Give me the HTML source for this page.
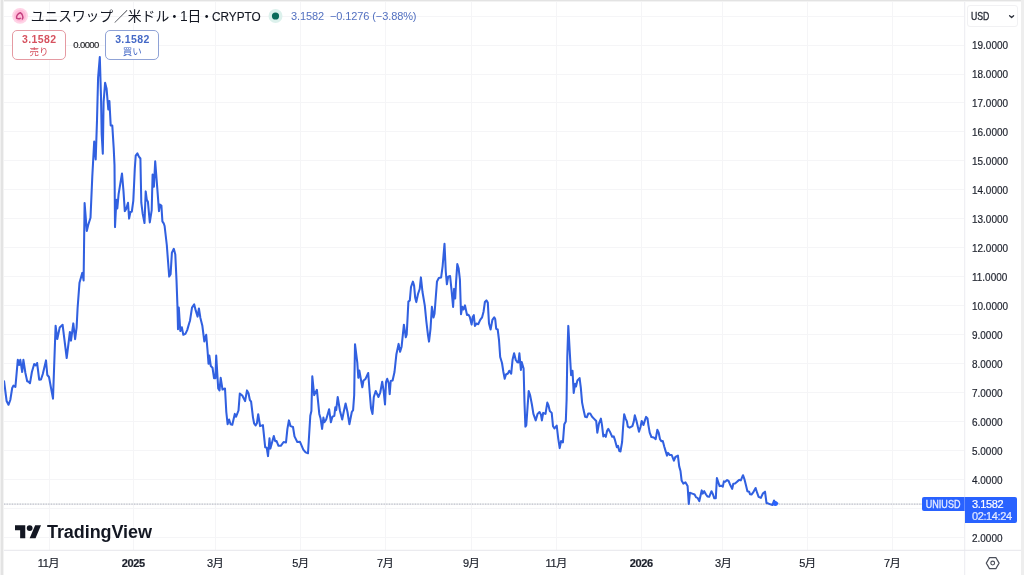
<!DOCTYPE html>
<html lang="ja">
<head>
<meta charset="utf-8">
<title>UNIUSD chart</title>
<style>
html,body{margin:0;padding:0;background:#fff;}
body{width:1024px;height:575px;overflow:hidden;position:relative;font-family:"Liberation Sans","Noto Sans CJK JP",sans-serif;color:#131722;}
#wrap{position:absolute;left:0;top:0;width:1024px;height:575px;overflow:hidden;background:#fff;}
.abs{position:absolute;}
svg{position:absolute;left:0;top:0;}
#grid line{stroke:#f5f5f7;stroke-width:1;}
.pl{position:absolute;left:972px;width:50px;height:14px;line-height:14px;font-size:11px;letter-spacing:0;transform:scaleX(0.905);transform-origin:0 50%;color:#1e222d;-webkit-text-stroke:0.2px #1e222d;white-space:nowrap;}
.tl{position:absolute;top:555px;width:60px;height:16px;line-height:16px;text-align:center;font-size:11px;color:#1c202b;white-space:nowrap;letter-spacing:-0.3px;-webkit-text-stroke:0.2px #1c202b;}
.tl.b{font-weight:bold;}
#title{left:32px;top:6px;height:21px;line-height:21px;font-size:13.8px;color:#131722;white-space:nowrap;}
#title .d{margin:0 -1.5px 0 -1.6px;}
#title .l{letter-spacing:0;}
#title .c{display:inline-block;font-size:13.4px;transform:scaleX(0.88);transform-origin:0 50%;-webkit-text-stroke:0.15px #131722;}
#vals{left:291px;top:8px;height:16px;line-height:16px;font-size:11px;color:#5270c0;white-space:nowrap;letter-spacing:-0.1px;}
.btn{position:absolute;top:30px;height:28px;border:1px solid;border-radius:5px;box-sizing:content-box;text-align:center;background:#fff;}
.btn .p{position:absolute;left:0;right:0;top:2.3px;height:12px;line-height:12px;font-size:10.5px;font-weight:bold;letter-spacing:0.4px;text-indent:0.4px;}
.btn .t{position:absolute;left:0;right:0;top:15px;height:12px;line-height:12px;font-size:9.5px;}
#sell{left:12px;width:52px;border-color:#e59aa2;color:#d6525f;}
#buy{left:105px;width:52.4px;border-color:#8fa2d6;color:#4468c6;}
#spread{left:72px;top:38.5px;width:28px;height:12px;line-height:12px;font-size:9.5px;color:#2a2a2e;text-align:center;letter-spacing:-0.6px;-webkit-text-stroke:0.2px #2a2a2e;}
#usd{left:967px;top:4.5px;width:51px;height:22px;border:1px solid #f1f1f3;border-radius:3px;box-sizing:border-box;}
#usd span{position:absolute;left:3.4px;top:4px;height:14px;line-height:14px;font-size:10.4px;color:#2a2e39;transform:scaleX(0.84);transform-origin:0 50%;-webkit-text-stroke:0.35px #2a2e39;}
#sym{left:922px;top:497px;width:43px;height:14px;background:#2962ff;border-radius:2px 0 0 2px;color:#e6ecff;font-size:10.5px;line-height:14px;text-align:center;}
#sym span{display:inline-block;transform:scaleX(0.86);transform-origin:50% 50%;-webkit-text-stroke:0.3px #e6ecff;margin-left:-1.5px;}
#last{left:965px;top:497px;width:52px;height:26px;background:#2962ff;border-radius:0 2px 2px 0;color:#fff;font-size:11px;letter-spacing:-0.4px;-webkit-text-stroke:0.2px #fff;}
#last div{position:absolute;left:7px;height:12px;line-height:12px;white-space:nowrap;}
#tvtxt{left:47px;top:520px;height:24px;line-height:24px;font-size:18px;font-weight:bold;color:#131722;letter-spacing:-0.07px;white-space:nowrap;}
</style>
</head>
<body>
<div id="wrap">
<svg id="grid" width="1024" height="575" viewBox="0 0 1024 575">
<line x1="4" y1="537.5" x2="964" y2="537.5"/>
<line x1="4" y1="508.5" x2="964" y2="508.5"/>
<line x1="4" y1="479.5" x2="964" y2="479.5"/>
<line x1="4" y1="450.5" x2="964" y2="450.5"/>
<line x1="4" y1="421.5" x2="964" y2="421.5"/>
<line x1="4" y1="392.5" x2="964" y2="392.5"/>
<line x1="4" y1="363.5" x2="964" y2="363.5"/>
<line x1="4" y1="334.5" x2="964" y2="334.5"/>
<line x1="4" y1="305.5" x2="964" y2="305.5"/>
<line x1="4" y1="276.5" x2="964" y2="276.5"/>
<line x1="4" y1="247.5" x2="964" y2="247.5"/>
<line x1="4" y1="218.5" x2="964" y2="218.5"/>
<line x1="4" y1="189.5" x2="964" y2="189.5"/>
<line x1="4" y1="160.5" x2="964" y2="160.5"/>
<line x1="4" y1="131.5" x2="964" y2="131.5"/>
<line x1="4" y1="102.5" x2="964" y2="102.5"/>
<line x1="4" y1="74.5" x2="964" y2="74.5"/>
<line x1="4" y1="45.5" x2="964" y2="45.5"/>
<line x1="4" y1="16.5" x2="964" y2="16.5"/>
<line x1="49.5" y1="2" x2="49.5" y2="550"/>
<line x1="133.5" y1="2" x2="133.5" y2="550"/>
<line x1="215.5" y1="2" x2="215.5" y2="550"/>
<line x1="300.5" y1="2" x2="300.5" y2="550"/>
<line x1="385.5" y1="2" x2="385.5" y2="550"/>
<line x1="471.5" y1="2" x2="471.5" y2="550"/>
<line x1="556.5" y1="2" x2="556.5" y2="550"/>
<line x1="641.5" y1="2" x2="641.5" y2="550"/>
<line x1="722.5" y1="2" x2="722.5" y2="550"/>
<line x1="807.5" y1="2" x2="807.5" y2="550"/>
<line x1="892.5" y1="2" x2="892.5" y2="550"/>
</svg>
<svg id="chart" width="1024" height="575" viewBox="0 0 1024 575">
<line x1="4" y1="504.1" x2="922" y2="504.1" stroke="#e4e5e9" stroke-width="1"/>
<line x1="4" y1="504.1" x2="922" y2="504.1" stroke="#b4b7c2" stroke-width="1" stroke-dasharray="1.3 1.3"/>
<polyline fill="none" stroke="#3160e0" stroke-width="2.05" stroke-linejoin="round" stroke-linecap="round" points="4.1,381.3 6.6,401 8.5,404.8 10.3,400 12.2,388 13.5,385.6 15.4,387 17.8,359.8 19.1,365 20.3,359.8 22.2,372 23.4,359.8 25.4,373 27.2,381.2 28.6,381.7 30,383.2 31.9,372 34.2,364 35.7,365.4 37.1,363 39.2,379.7 41,379.5 42.8,374 46,360.4 47.3,375 49,377 53,398.6 55.6,325.7 57.3,339 59.7,327.6 62.6,324.8 66.7,358 69.9,332 71,340.7 73.3,323.4 75.1,339.2 76.6,327.6 77.6,308 79.5,282.7 82.3,272.9 83.6,280.4 84.6,203 86.8,231 88.2,225 90.5,217.8 92.3,176.4 94.2,141.5 95.7,159.5 97,120.5 98.1,77.6 99.8,57 101,96.4 101.7,134.5 102.8,153.8 103.6,102 105.1,82.8 106.6,88.8 108.3,109.5 109.4,101 110.7,125.5 112.3,125.6 113.7,148 114.5,165.1 115,227.1 116.4,199.8 117.3,208.5 118.6,194.2 122,173.5 123.5,191.4 124.8,211.1 126.1,209.2 128,202.7 129.1,218.6 130.4,212 131.8,211.7 133.3,200.8 134.8,168.8 135.7,155.7 137.4,153.4 138.9,156.6 140.4,158.5 141.3,202.7 142.7,213.9 144.5,223 145.7,191.4 146.8,199.8 147.9,201.7 149.8,222.4 151.7,210.2 152.6,174.5 153.9,186.7 155.2,161.3 157.1,185.8 159,211.1 159.9,204.5 161.4,205.5 162.4,221.4 163.7,223.3 164.6,226 166.8,245 169.2,276.6 170.6,274.2 171.9,252.6 173.8,248.8 175.3,254.5 176.5,280 177.5,307.6 178,329.2 178.8,307.6 180.3,331 181.8,327.3 183.3,334.8 185.4,333.9 187.2,330.1 189.1,323.5 190,320.7 192,307.6 194.2,304.4 195.7,310.4 197.6,316.6 198.9,308.5 200.4,317.9 202.3,325.4 204.3,341.4 206.2,334.8 207.5,350 208.5,363.8 209.3,355.5 210.8,366 212.5,367.7 214,378.2 215.4,378.2 216.2,355.5 218.2,388.5 219.5,390.4 220.7,377.8 222.5,389.5 225,388.5 226.3,412 227.6,424.2 229.1,419.5 230.6,424.2 232.3,424.8 234.8,413.9 236.1,416.7 238.5,410.5 239.8,393.6 242.3,395.5 245.1,401.1 247,390.4 248.5,393.2 249.8,399.8 251.1,401.7 253,417.6 254.1,423.3 255.6,425.5 256.9,423.3 258.2,414.2 260.1,426.1 262.9,425.1 265.2,447.3 266.7,447.7 268,456.1 269.5,438.3 270.4,448.6 273.8,436 275.1,441.1 276.6,441.1 278.5,445.8 280.8,445.8 283.6,442 286,442.4 287.4,428.9 288.9,420.4 290.5,426.1 293,427 294.5,436.4 297.3,442 299.9,441.7 303.3,449.6 305.6,452.4 308,453.3 310.3,415.8 311.4,411 312.3,376.3 314.2,395.1 316.9,389.8 319.3,413.9 320.6,418.6 322.1,428.9 323.4,417.6 324.4,422.3 326.2,419.5 329.1,409.2 330.9,422.3 332.4,416.7 334.3,415.8 335.3,407.3 336.2,410.1 337.7,397 340,411 342.2,419.5 343.7,412 345.6,403.5 347.5,412 349.4,424.2 351.8,412 353.1,410.1 354.2,395 355,344.2 357.3,362.7 358.3,377.8 359.3,370.5 362.3,387.3 363.5,380.5 365.4,379.2 368.2,373 369.5,390 371,408.2 372.5,413.9 373.8,397 375.7,391 378.5,397 380.3,392.3 382.2,381.7 383.7,391.3 385,404.5 386,382 387.2,378.8 388.8,383.8 389.7,394.1 390.7,381 392.6,380.5 394.5,372 396.4,354.2 398.6,343.9 400.1,351.8 401.6,346.7 403.9,324.7 405.8,337.3 406.7,334.5 408.4,301.6 409.8,300.5 411,287 412.9,281.6 414.1,285.6 415.2,297.8 416.3,302.1 418,294 419.7,289 420.9,277.4 422.5,292 424.8,305.6 426.3,321 427.9,334.5 429,341.6 430.5,329 431.9,306.8 433.5,317.5 434.5,313.8 435.8,297 437,281.4 438.8,278 441.1,277.6 442.6,266.3 444.5,243.8 445.8,272 446.9,284.3 448.2,276.7 450.1,276.1 451.6,290.8 453.1,307 454.1,288.9 455.2,298.5 456.1,281.4 457.3,264.1 458.6,268.2 459.9,279.5 461,314.2 462.3,306.7 463.6,309.5 465,305.4 467,315 468.5,314.8 469.8,317 471.6,324.6 472.7,317 473.8,315.2 474.9,326 476.4,323.6 478.3,324.2 480.2,319.9 482.1,317.3 483.6,311.4 484.9,302 486.4,300.4 487.8,302.6 489,323.6 490.6,329.5 492.4,319.9 494.2,317.3 495.2,319 496.2,328.9 497.7,329.5 499,340 500.2,357 502,363 503.4,372 504.7,378.8 506,374.5 507.9,373.5 509.3,370.7 511.2,373.7 512.6,359.4 514.1,353.3 515.8,360 517.5,362.3 518.4,362.5 519.4,353.3 520.9,370 521.7,362 523.6,368.5 524.5,402.6 525.4,426.6 526.3,425.1 527.6,406.4 528.7,391 530.1,395.1 531.9,404.5 533.4,413.9 535.7,420.4 537.6,413.9 539.5,412 541,414.8 541.9,420.4 543.2,412.9 545.5,413.9 547.3,402.6 548.5,405.4 549.8,411 551.7,412.9 553,426.1 554.5,428.5 556.7,425.5 558.2,438.3 559.7,448.1 561.1,441.1 562.9,442.4 564.3,424.2 565.8,421.4 566.6,400 567.3,356.4 568.3,325.9 569.8,352.6 571.1,375.2 572.5,370.8 573.7,392.9 575.1,383.8 576,386.5 577.4,380.5 579.6,378.1 580.8,387.6 582.1,402.6 583.6,410.1 585.1,416.7 586.8,417.3 588.3,413.5 590.2,413.5 592.1,416.7 593.9,418.6 596.2,421 597.3,432.7 599,423.3 600.9,418.6 602,425.1 603.3,436.4 604.6,434.9 605.8,436.8 607.1,430.8 608.2,428.9 609.9,431.7 612.2,436.8 613.7,436.4 615,440.2 616.9,447.3 618,445.8 619.3,451.1 620.5,451.4 622.1,442 623.1,427 624.2,414.2 625.6,418.6 626.9,421.4 627.8,426.6 629.6,427.7 632.4,426.1 633.8,421.4 634.8,415.3 636.6,421.4 639,431.7 640.5,427 641.7,421 643.5,425 644.9,420.4 646.1,416.9 647.5,418.5 648.4,425.1 649.7,432.7 651.4,437 653.8,437.5 655.7,439.1 657.3,429.8 658.7,432.7 660,439.2 661.3,441.1 662.8,441.1 664.3,446.7 665.7,451.4 667,455.6 668,452.9 669.8,455 671.7,455 673.9,460.7 675.4,457 677.9,455.6 679.2,466.4 680.5,471 681.6,480.4 683.3,483.6 685.4,482.3 687.6,486.1 688.8,503.9 689.9,492.7 692.3,493.6 694.6,494.5 696.1,497.4 697.6,497.9 699.3,501.1 700.8,494.5 701.7,490.4 702.8,493.6 704.2,491.2 706,494.5 707.4,496.4 709.2,496.8 711.5,491.2 713,494.5 714.3,498.3 715.8,498.3 716.9,478 718.3,482.3 719.6,486.1 721.4,485.7 722.8,486.6 723.9,481.4 725.2,481.8 727.1,480.1 728.6,481 729.9,484.2 732.2,488.9 733.3,483.8 735,483.6 737.4,481.4 739.3,479.9 740.8,480.4 743,475.2 744.4,479.1 745.9,485.1 747.4,491.2 749.1,491.7 750,494.2 751.5,494.5 753,492.7 755.6,488 757.1,492.7 758.6,496.8 760.9,497.9 762.8,493.6 765,491.7 766.5,503 768.4,503.6 770.3,504.3 772.5,504.9 774,500.5 775.5,503 777.4,503.4"/>
<circle cx="775.3" cy="503.5" r="2.5" fill="#2962ff"/>
<!-- axes -->
<rect x="964.2" y="0" width="1" height="575" fill="#ebecf0"/>
<rect x="0" y="549.8" width="1024" height="1" fill="#e6e7eb"/>
<!-- frame -->
<rect x="0" y="0" width="1024" height="1" fill="#e3e3e3"/>
<rect x="0" y="1" width="1024" height="1" fill="#f3f3f3"/>
<rect x="0" y="0" width="1" height="575" fill="#f1f1f1"/>
<rect x="1" y="0" width="2" height="575" fill="#e3e3e3"/>
<rect x="3" y="0" width="1" height="575" fill="#f3f3f3"/>
<rect x="1021" y="0" width="3" height="575" fill="#eeeeee"/>
</svg>

<!-- header -->
<svg width="40" height="34" viewBox="0 0 40 34">
<circle cx="20.1" cy="15.8" r="7.9" fill="#ffd3e6"/>
<circle cx="20.1" cy="15.8" r="6" fill="#ffbcd9"/>
<path d="M16.7 18.2C16 16.4 17.6 13.6 20.3 12.7C21.3 13.4 22.3 14.6 22.7 15.9C23.1 17.1 22.9 18.3 22.3 18.9M16.7 18.2C17.8 18.9 19.4 18.9 20.3 18.3" fill="none" stroke="#c4407f" stroke-width="1.5" stroke-linecap="round" stroke-linejoin="round"/>
</svg>
<div id="title" class="abs"><span class="j" style="margin-left:-1.2px;letter-spacing:-0.1px">ユニスワップ</span><span class="j" style="margin-left:1px">／米ドル</span><span class="d">・</span><span class="l">1</span><span class="j">日</span><span class="d">・</span><span class="c">CRYPTO</span></div>
<svg width="300" height="34" viewBox="0 0 300 34">
<circle cx="275.5" cy="16" r="7" fill="#dcf1ec"/>
<circle cx="275.5" cy="16" r="3.6" fill="#0a6b5a"/>
</svg>
<div id="vals" class="abs">3.1582&nbsp; −0.1276 (−3.88%)</div>

<div id="sell" class="btn"><div class="p">3.1582</div><div class="t">売り</div></div>
<div id="spread" class="abs">0.0000</div>
<div id="buy" class="btn"><div class="p">3.1582</div><div class="t">買い</div></div>

<!-- price axis -->
<div id="usd" class="abs"><span>USD</span>
<svg width="12" height="12" viewBox="0 0 12 12" style="left:37px;top:4px"><path d="M4.6 5.7L6.6 7.5L8.6 5.7" fill="none" stroke="#2a2e39" stroke-width="1.3" stroke-linecap="round" stroke-linejoin="round"/></svg>
</div>
<div class="pl" style="top:531px">2.0000</div>
<div class="pl" style="top:502px">3.0000</div>
<div class="pl" style="top:473px">4.0000</div>
<div class="pl" style="top:444px">5.0000</div>
<div class="pl" style="top:415px">6.0000</div>
<div class="pl" style="top:386px">7.0000</div>
<div class="pl" style="top:357px">8.0000</div>
<div class="pl" style="top:328px">9.0000</div>
<div class="pl" style="top:299px">10.0000</div>
<div class="pl" style="top:270px">11.0000</div>
<div class="pl" style="top:241px">12.0000</div>
<div class="pl" style="top:212px">13.0000</div>
<div class="pl" style="top:183px">14.0000</div>
<div class="pl" style="top:154px">15.0000</div>
<div class="pl" style="top:125px">16.0000</div>
<div class="pl" style="top:96px">17.0000</div>
<div class="pl" style="top:67px">18.0000</div>
<div class="pl" style="top:38px">19.0000</div>
<div id="sym" class="abs"><span>UNIUSD</span></div>
<div id="last" class="abs"><div style="top:1px">3.1582</div><div style="top:13px;color:#d6e0ff">02:14:24</div></div>

<div class="abs" style="left:964px;top:497px;width:1px;height:14px;background:rgba(255,255,255,0.28)"></div>
<!-- time axis -->
<div class="tl" style="left:18.5px">11月</div>
<div class="tl b" style="left:103.3px">2025</div>
<div class="tl" style="left:185.3px">3月</div>
<div class="tl" style="left:270.5px">5月</div>
<div class="tl" style="left:355.3px">7月</div>
<div class="tl" style="left:441.3px">9月</div>
<div class="tl" style="left:526.3px">11月</div>
<div class="tl b" style="left:611.3px">2026</div>
<div class="tl" style="left:693.3px">3月</div>
<div class="tl" style="left:777.5px">5月</div>
<div class="tl" style="left:862.3px">7月</div>
<svg width="1024" height="575" viewBox="0 0 1024 575" style="pointer-events:none">
<path d="M986.3 563.1L989.5 557.6H995.9L999.1 563.1L995.9 568.6H989.5Z" fill="none" stroke="#4a4e59" stroke-width="1.15" stroke-linejoin="round"/>
<circle cx="992.7" cy="563.1" r="1.9" fill="none" stroke="#4a4e59" stroke-width="1.15"/>
<!-- TradingView logo mark -->
<g transform="translate(15,522.2) scale(0.733)" fill="#131722">
<path d="M14 22H7V11H0V4h14v18zM28 22h-8l7.5-18h8L28 22z"/>
<circle cx="20" cy="8" r="4"/>
</g>
</svg>
<div id="tvtxt" class="abs">TradingView</div>
</div>
</body>
</html>
